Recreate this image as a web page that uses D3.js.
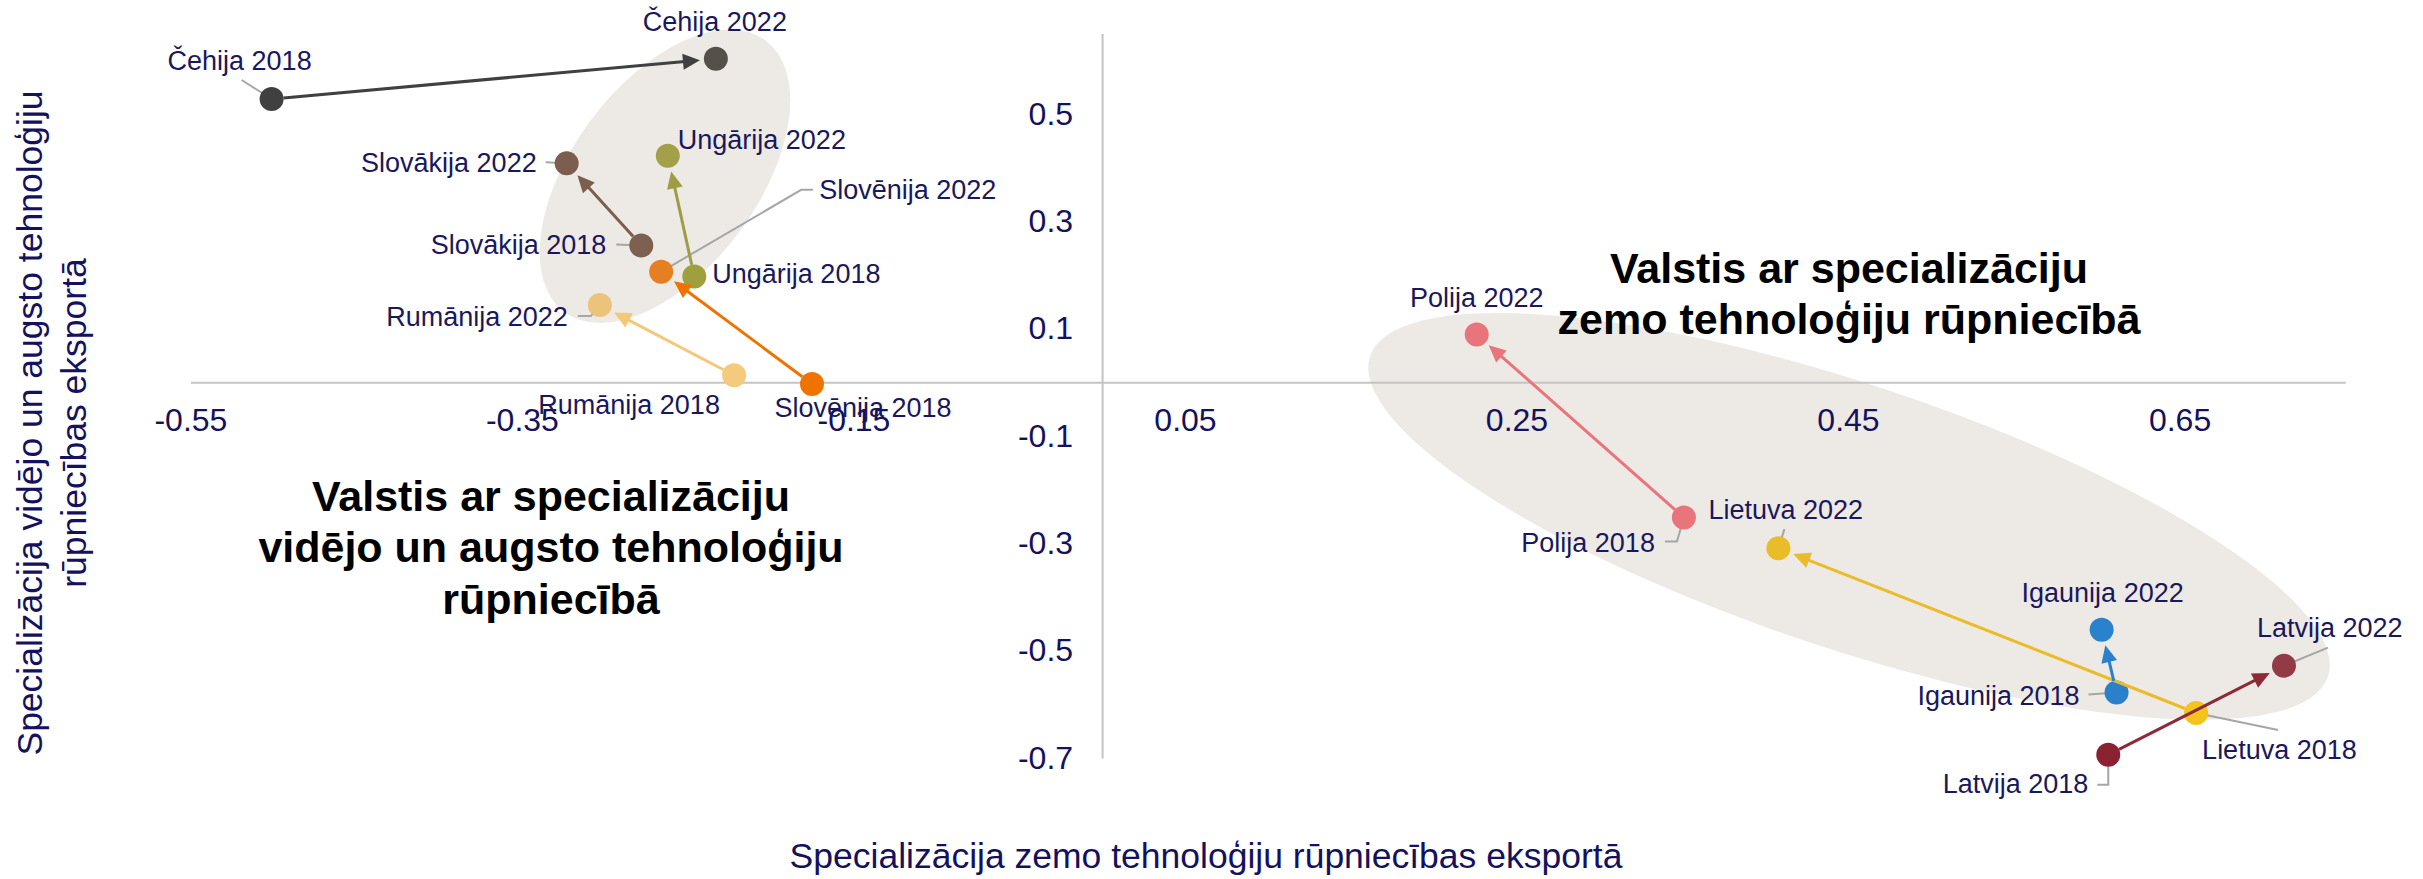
<!DOCTYPE html>
<html>
<head>
<meta charset="utf-8">
<script src="https://cdn.jsdelivr.net/npm/d3@7"></script>
<style>
  body { margin: 0; background: #fff; }
  text { font-family: "Liberation Sans", Arial, sans-serif; }
</style>
</head>
<body>
<div id="chart"></div>
<script>
var svgWidth = 2423;
var svgHeight = 879;

// data
var countries = ["Čehija", "Slovākija", "Ungārija", "Slovēnija", "Rumānija", "Polija", "Lietuva", "Igaunija", "Latvija"];
var x2018 = [-0.501, -0.278, -0.246, -0.175, -0.222, 0.351, 0.660, 0.612, 0.607];
var y2018 = [0.528, 0.255, 0.197, -0.003, 0.013, -0.252, -0.616, -0.578, -0.694];
var x2022 = [-0.233, -0.323, -0.262, -0.266, -0.303, 0.226, 0.408, 0.603, 0.713];
var y2022 = [0.603, 0.408, 0.422, 0.206, 0.144, 0.089, -0.309, -0.461, -0.528];
var xTicks = [-0.55, -0.35, -0.15, 0.05, 0.25, 0.45, 0.65];
var yTicks = [-0.7, -0.5, -0.3, -0.1, 0.1, 0.3, 0.5];

var xTitle = "Specializācija zemo tehnoloģiju rūpniecības eksportā";
var yTitle = ["Specializācija vidējo un augsto tehnoloģiju", "rūpniecības eksportā"];
var groupLeft = ["Valstis ar specializāciju", "vidējo un augsto tehnoloģiju", "rūpniecībā"];
var groupRight = ["Valstis ar specializāciju", "zemo tehnoloģiju rūpniecībā"];

// styles
var color2018 = ["#404040", "#7d604f", "#9ea03e", "#f07300", "#f5ca7c", "#e8747c", "#f4c31c", "#2b80cb", "#8b2232"];
var color2022 = ["#56504a", "#7b5e4d", "#a3a04a", "#e67e22", "#ecc37a", "#e8747c", "#e9bc2a", "#2b82cc", "#923a45"];
var arrowColor = ["#404040", "#7b5e4d", "#9e9c45", "#f07300", "#f5c878", "#e8747c", "#ebbb2a", "#2b80cb", "#8c2a38"];

// label offsets from point (px): dx, dy (baseline), anchor, leader points
var lab2018 = [
  [-32, -29, "middle", [[-30, -19], [0, 0]]],
  [-35, 9, "end", [[-25, -1], [0, 0]]],
  [18, 6, "start", null],
  [51, 33, "middle", null],
  [-105, 39, "middle", null],
  [-29, 34, "end", [[-19, 24], [-7, 24], [0, 0]]],
  [6, 46, "start", [[82, 17], [0, 0]]],
  [-37, 12, "end", [[-28, 2], [0, 0]]],
  [-20, 38, "end", [[-11, 30], [0, 30], [0, 0]]]
];
var lab2022 = [
  [-1, -28, "middle", null],
  [-30, 9, "end", [[-21, -1], [0, 0]]],
  [10, -7, "start", null],
  [158, -73, "start", [[152, -82], [140, -82], [0, 0]]],
  [-32, 21, "end", [[-22, 11], [-9, 11], [0, 0]]],
  [0, -28, "middle", null],
  [-70, -29, "start", [[6, -19], [0, 0]]],
  [1, -28, "middle", null],
  [-27, -29, "start", [[44, -18], [0, 0]]]
];

var svg = d3.select("#chart")
  .append("svg")
  .attr("width", svgWidth)
  .attr("height", svgHeight);

svg.append("rect").attr("width", svgWidth).attr("height", svgHeight).attr("fill", "#fff");

var x = d3.scaleLinear().domain([-0.55, 0.75]).range([190.4, 2345.3]);
var y = d3.scaleLinear().domain([-0.7, 0.65]).range([758, 33.5]);

// background groups (ellipses)
svg.append("ellipse")
  .attr("transform", `translate(${x(-0.2637)}, ${y(0.384)}) rotate(-53.5)`)
  .attr("rx", 169).attr("ry", 93)
  .attr("fill", "#ede9e5");

svg.append("ellipse")
  .attr("transform", `translate(${x(0.4506)}, ${y(-0.2497)}) rotate(18.5)`)
  .attr("rx", 505).attr("ry", 132)
  .attr("fill", "#ede9e5");

// axes
var xAxis = svg.append("g")
  .attr("transform", `translate(0, ${y(0)})`)
  .call(d3.axisBottom(x).tickValues(xTicks).tickFormat(d => String(d)).tickSize(0).tickPadding(26));
var yAxis = svg.append("g")
  .attr("transform", `translate(${x(0)}, 0)`)
  .call(d3.axisLeft(y).tickValues(yTicks).tickFormat(d => String(d)).tickSize(0).tickPadding(29));

svg.selectAll(".domain").attr("stroke", "#c4c4c4").attr("stroke-width", 2);
svg.selectAll(".tick text")
  .attr("fill", "#14125e")
  .attr("font-size", "32px")
  .attr("font-family", "Liberation Sans, Arial, sans-serif");

// axis titles
svg.append("text")
  .attr("x", 1206).attr("y", 868)
  .attr("text-anchor", "middle")
  .attr("font-size", "35.5px")
  .attr("fill", "#14125e")
  .text(xTitle);

var yt = svg.append("g").attr("transform", "translate(0, 423) rotate(-90)");
yTitle.forEach((t, i) => {
  yt.append("text")
    .attr("x", 0).attr("y", 42 + i * 43.5)
    .attr("text-anchor", "middle")
    .attr("font-size", "35.5px")
    .attr("fill", "#14125e")
    .text(t);
});

// group annotations
groupLeft.forEach((t, i) => {
  svg.append("text")
    .attr("x", 551).attr("y", 511 + i * 51.3)
    .attr("text-anchor", "middle")
    .attr("font-size", "43px")
    .attr("font-weight", "bold")
    .attr("fill", "#000")
    .text(t);
});
groupRight.forEach((t, i) => {
  svg.append("text")
    .attr("x", 1849).attr("y", 283 + i * 51.3)
    .attr("text-anchor", "middle")
    .attr("font-size", "43px")
    .attr("font-weight", "bold")
    .attr("fill", "#000")
    .text(t);
});

// leaders
var leaders = svg.append("g");
function drawLeader(px, py, pts) {
  if (!pts) return;
  leaders.append("polyline")
    .attr("points", pts.map(p => (px + p[0]) + "," + (py + p[1])).join(" "))
    .attr("fill", "none")
    .attr("stroke", "#a6a6a6")
    .attr("stroke-width", 2);
}
countries.forEach((c, i) => {
  drawLeader(x(x2018[i]), y(y2018[i]), lab2018[i][3]);
  drawLeader(x(x2022[i]), y(y2022[i]), lab2022[i][3]);
});

// points
var r = 12;
var dots = svg.append("g");
countries.forEach((c, i) => {
  dots.append("circle")
    .attr("cx", x(x2018[i])).attr("cy", y(y2018[i])).attr("r", r)
    .attr("fill", color2018[i]);
  dots.append("circle")
    .attr("cx", x(x2022[i])).attr("cy", y(y2022[i])).attr("r", r)
    .attr("fill", color2022[i]);
});

// arrows 2018 -> 2022
var arrows = svg.append("g");
countries.forEach((c, i) => {
  var x1 = x(x2018[i]), y1 = y(y2018[i]);
  var x2 = x(x2022[i]), y2 = y(y2022[i]);
  var len = Math.hypot(x2 - x1, y2 - y1);
  var ux = (x2 - x1) / len, uy = (y2 - y1) / len;
  var tipX = x2 - ux * 16, tipY = y2 - uy * 16;
  var head = 17, half = 8;
  var bx = tipX - ux * head, by = tipY - uy * head;
  arrows.append("line")
    .attr("x1", x1 + ux * r).attr("y1", y1 + uy * r)
    .attr("x2", bx + ux * 2).attr("y2", by + uy * 2)
    .attr("stroke", arrowColor[i])
    .attr("stroke-width", 3);
  arrows.append("polygon")
    .attr("points", [
      [tipX, tipY],
      [bx - uy * half, by + ux * half],
      [bx + uy * half, by - ux * half]
    ].map(p => p.join(",")).join(" "))
    .attr("fill", arrowColor[i]);
});

// labels
var labels = svg.append("g")
  .attr("font-size", "27px")
  .attr("fill", "#1a185c");
countries.forEach((c, i) => {
  var l = lab2018[i];
  labels.append("text")
    .attr("x", x(x2018[i]) + l[0]).attr("y", y(y2018[i]) + l[1])
    .attr("text-anchor", l[2])
    .text(c + " 2018");
  var m = lab2022[i];
  labels.append("text")
    .attr("x", x(x2022[i]) + m[0]).attr("y", y(y2022[i]) + m[1])
    .attr("text-anchor", m[2])
    .text(c + " 2022");
});
</script>
</body>
</html>
